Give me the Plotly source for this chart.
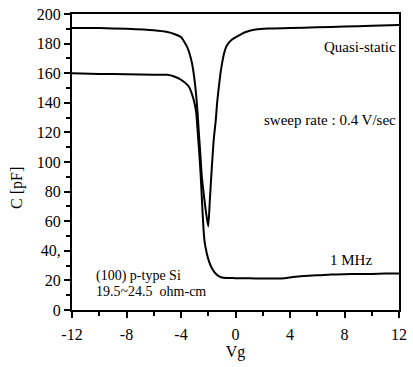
import plotly.graph_objects as go

# Quasi-static curve (Vg, C)
qs_vg = [-12, -10, -8, -6, -5, -4.5, -4.0, -3.55, -3.2, -2.95, -2.78, -2.7, -2.6, -2.47, -2.3, -2.15, -2.0,
         -1.88, -1.76, -1.6, -1.45, -1.35, -1.22, -1.1, -0.98, -0.85, -0.7, -0.5, -0.25, 0.03, 0.4, 0.75, 1.47,
         2.4, 4, 6, 8, 10, 12]
qs_c = [190.5, 190.5, 190, 189, 187.8, 186.5, 184.4, 177.8, 167, 151, 133, 121, 108, 90, 76, 65, 56.5,
        75, 93, 115, 128, 140, 151, 160, 167, 173, 177.5, 180.5, 182.8, 184.4, 186.3, 187.8, 189.5,
        190.2, 190.5, 191, 191.5, 192, 192.5]

# 1 MHz curve (Vg, C)
hf_vg = [-12, -10, -8, -6, -5, -4.5, -4.0, -3.43, -3.07, -2.88, -2.78, -2.65, -2.55, -2.45, -2.35, -2.25,
         -2.1, -1.95, -1.75, -1.5, -1.2, -0.9, -0.5, 0, 1, 2, 3, 3.6, 4.2, 5.0, 6, 7, 8, 9, 10, 11, 12]
hf_c = [160, 159.5, 159.3, 159, 158.9, 157.8, 155.6, 151, 142, 133, 121, 105, 90, 72, 55, 45,
        38, 33, 28.5, 25, 22.8, 21.8, 21.6, 21.5, 21.4, 21.3, 21.3, 21.5, 22.3, 23.0, 23.4, 24, 24.2, 24.3, 24.4, 24.6, 24.7]

x_ticks = [-12, -8, -4, 0, 4, 8, 12]
y_ticks = [0, 20, 40, 60, 80, 100, 120, 140, 160, 180, 200]
y_tick_text = ["0", "20", "40,", "60", "80", "100", "120", "140", "160", "180", "200"]

FONT = "Liberation Serif"

fig = go.Figure()
for xs, ys in ((qs_vg, qs_c), (hf_vg, hf_c)):
    fig.add_trace(go.Scatter(x=xs, y=ys, mode="lines",
                             line=dict(color="black", width=2, shape="spline", smoothing=0.5),
                             showlegend=False, hoverinfo="skip"))

anno_font = dict(family=FONT, size=15, color="black")
small_font = dict(family=FONT, size=14, color="black")
fig.add_annotation(x=11.9, y=178, text="Quasi-static", showarrow=False, xanchor="right", yanchor="middle", font=anno_font)
fig.add_annotation(x=11.9, y=128.7, text="sweep rate : 0.4 V/sec", showarrow=False, xanchor="right", yanchor="middle", font=anno_font)
fig.add_annotation(x=8.5, y=33.5, text="1 MHz", showarrow=False, xanchor="center", yanchor="middle", font=anno_font)
fig.add_annotation(x=-10.3, y=23.2, text="(100) p-type Si", showarrow=False, xanchor="left", yanchor="middle",
                   font=small_font, borderpad=0)
fig.add_annotation(x=-10.3, y=12.6, text="19.5~24.5  ohm-cm", showarrow=False, xanchor="left", yanchor="middle",
                   font=small_font, borderpad=0)
fig.add_annotation(x=(15 - 72) / (413 - 78), y=(310 - 186) / 300, xref="paper", yref="paper", text="C [pF]",
                   showarrow=False, textangle=-90, xanchor="center", yanchor="middle",
                   font=dict(family=FONT, size=16, color="black"))

fig.update_layout(
    width=413, height=367,
    margin=dict(l=72, r=6, t=10, b=57),
    paper_bgcolor="white", plot_bgcolor="white",
    font=dict(family=FONT, size=16, color="black"),
    xaxis=dict(range=[-12, 12], tickvals=x_ticks, ticktext=[str(v) for v in x_ticks],
               showline=True, linecolor="black", linewidth=2, mirror=True,
               ticks="outside", ticklen=6, tickwidth=2, tickcolor="black", ticklabelstandoff=3,
               minor=dict(dtick=2, tick0=0, ticks="outside", ticklen=4, tickwidth=1.5, tickcolor="black"),
               showgrid=False, zeroline=False,
               title=dict(text="Vg", font=dict(family=FONT, size=16), standoff=4)),
    yaxis=dict(range=[0, 200], tickvals=y_ticks, ticktext=y_tick_text,
               showline=True, linecolor="black", linewidth=2, mirror=True,
               ticks="outside", ticklen=6, tickwidth=2, tickcolor="black",
               minor=dict(dtick=10, tick0=0, ticks="outside", ticklen=4, tickwidth=1.5, tickcolor="black"),
               showgrid=False, zeroline=False),
)

fig.write_html("out.html")
